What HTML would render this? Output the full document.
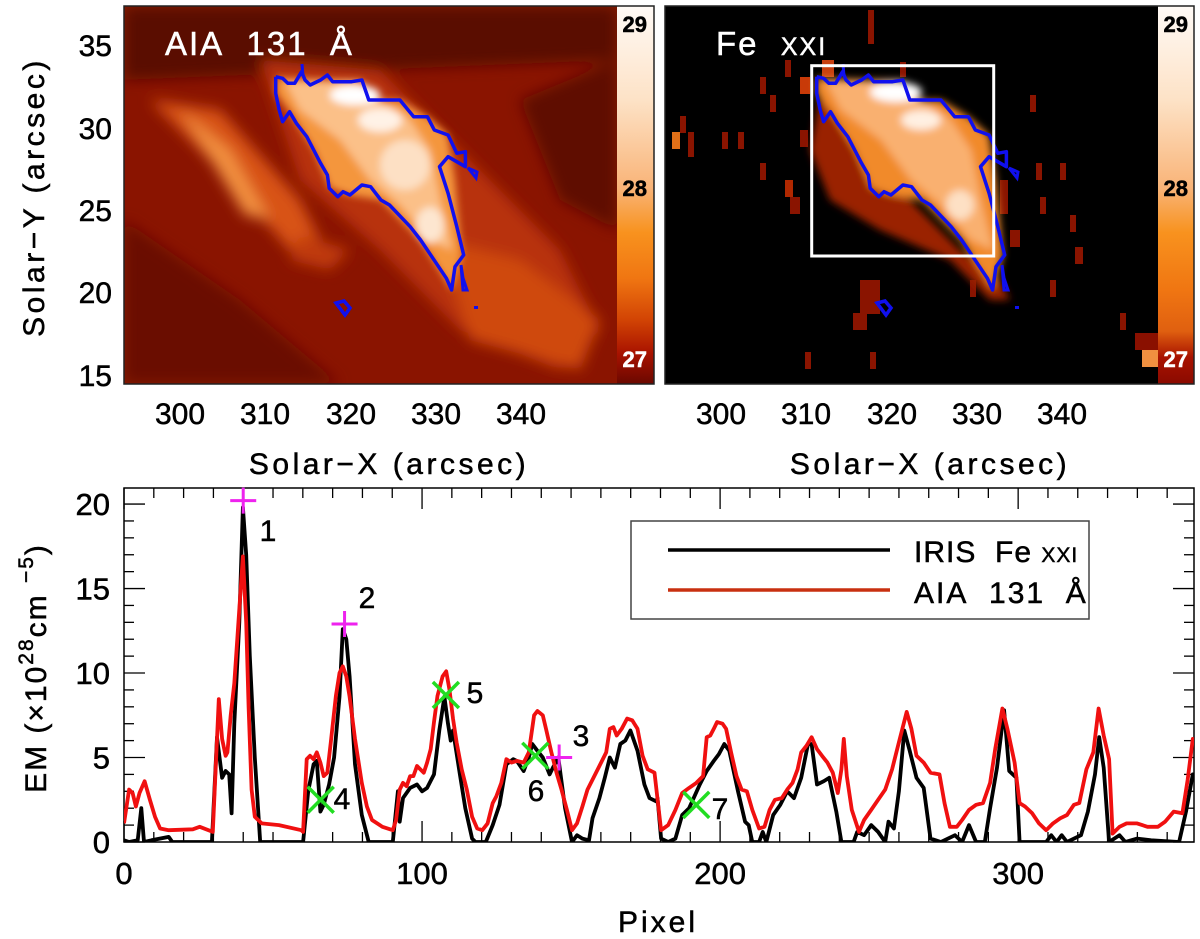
<!DOCTYPE html>
<html><head><meta charset="utf-8">
<style>
html,body{margin:0;padding:0;background:#fff;}
svg{display:block;font-family:"Liberation Sans",sans-serif;}
svg text{stroke:currentColor;stroke-width:0.5px;}
</style></head>
<body>
<svg id="fig" width="1200" height="939" viewBox="0 0 1200 939">
<defs>
  <filter id="blur6" x="-20%" y="-20%" width="140%" height="140%"><feGaussianBlur stdDeviation="7"/></filter>
  <filter id="blur3"><feGaussianBlur stdDeviation="4"/></filter>
  <linearGradient id="cbar" x1="0" y1="0" x2="0" y2="1">
    <stop offset="0" stop-color="#fffaf6"/>
    <stop offset="0.25" stop-color="#fde2c6"/>
    <stop offset="0.48" stop-color="#f9b478"/>
    <stop offset="0.6" stop-color="#f8921e"/>
    <stop offset="0.72" stop-color="#f07612"/>
    <stop offset="0.83" stop-color="#d24404"/>
    <stop offset="0.92" stop-color="#a81200"/>
    <stop offset="1" stop-color="#6a0800"/>
  </linearGradient>
  <linearGradient id="cbar2" x1="0" y1="0" x2="0" y2="1">
    <stop offset="0" stop-color="#fffaf6"/>
    <stop offset="0.25" stop-color="#fde2c6"/>
    <stop offset="0.48" stop-color="#f9b478"/>
    <stop offset="0.6" stop-color="#f8921e"/>
    <stop offset="0.75" stop-color="#f07612"/>
    <stop offset="0.86" stop-color="#e06010"/>
    <stop offset="0.93" stop-color="#a81200"/>
    <stop offset="1" stop-color="#8a0a00"/>
  </linearGradient>
  <clipPath id="clipL"><rect x="124" y="6" width="493" height="378"/></clipPath>
  <clipPath id="clipR"><rect x="665" y="6" width="493" height="378"/></clipPath>
  <clipPath id="clipB"><rect x="124" y="488" width="1070" height="354"/></clipPath>
  <g id="contour">
    <polyline fill="none" stroke="#1010ee" stroke-width="3.5" stroke-linejoin="round" points="275.7,76.7 282.6,78.3 287.8,83.3 294.7,83.3 301.6,71.7 305,80 310.2,85 320.6,80 327.4,75 332.6,81.7 351.6,81.7 361.9,80 368.8,100 399.9,100 413.7,116.7 427.4,116.7 434.3,130 448.1,135 456.8,153.3 465.4,151.7 465.4,166.7 448.1,156.7 439.5,166.7 448.1,193.3 456.8,226.7 463.7,255 455,266.7 451.6,290 446.4,278.3 420.6,240 410.2,226.7 389.5,205 380.9,200 370.6,186.7 361.9,185 349.9,195 343,191.7 337.8,196.7 329.2,188.3 327.4,175 320.6,163.3 313.7,150 306.8,136.7 296.4,123.3 289.5,111.7 282.6,121.7 279.2,110 275.7,93.3 275.7,76.7"/>
    <polyline fill="none" stroke="#1010ee" stroke-width="3" points="302,64 303,76"/>
    <polygon fill="none" stroke="#1010ee" stroke-width="3" points="468,168 477,172 476,178"/>
    <polyline fill="none" stroke="#1010ee" stroke-width="3" points="461,265 463,290 467,290 463,278 461,265"/>
    <polygon fill="none" stroke="#1010ee" stroke-width="3.5" points="336,303 344,301 350,308 345,315"/>
    <rect x="474" y="306" width="4" height="3" fill="#1010ee"/>
  </g>
</defs>

<!-- ===== LEFT MAP ===== -->
<g clip-path="url(#clipL)">
  <rect x="124" y="6" width="493" height="378" fill="#8a1400"/>
  <g filter="url(#blur6)">
    <polygon points="124,6 617,6 617,60 124,80" fill="#5a0800"/>
    <polygon points="124,220 240,300 340,384 124,384" fill="#6a0a00"/>
    <polygon points="520,100 617,60 617,230 560,200" fill="#5e0800"/>
    <polygon points="150,100 220,110 300,200 330,260 290,250 220,170" fill="#d85214"/>
    <polygon points="180,110 230,150 270,220 245,215" fill="#f29040"/>
    <polygon points="260,60 380,70 470,160 560,250 600,330 560,370 460,330 380,250 300,180" fill="#b83008"/>
    <polygon points="440,240 520,260 600,320 580,370 470,340" fill="#cf4a10"/>
    <polygon points="300,235 350,250 330,270 290,260" fill="#c03a08"/>
  </g>
  <g filter="url(#blur3)">
    <polygon points="276,78 332,80 362,80 369,100 400,100 428,117 448,135 455,180 462,255 452,290 420,240 381,200 350,195 330,188 314,150 290,112 276,93" fill="#f4963c"/>
    <polygon points="285,82 350,82 380,100 410,120 430,150 440,200 452,250 430,240 400,205 370,180 340,140 300,110" fill="#fbc088"/>
    <ellipse cx="355" cy="95" rx="25" ry="10" fill="#ffffff"/>
    <ellipse cx="380" cy="120" rx="22" ry="12" fill="#fff2e6"/>
    <ellipse cx="405" cy="165" rx="25" ry="25" fill="#fde0c4"/>
    <ellipse cx="430" cy="225" rx="14" ry="18" fill="#fde6d0"/>
  </g>
  <use href="#contour"/>
</g>
<rect x="617" y="6" width="37" height="378" fill="url(#cbar)"/>
<rect x="124" y="6" width="530" height="378" fill="none" stroke="#222" stroke-width="1.5"/>
<text x="165" y="55" fill="#fff" color="#fff" font-size="33" letter-spacing="2">AIA&#160; 131&#160; Å</text>
<g font-size="22" font-weight="bold">
  <text x="647" y="32" text-anchor="end" fill="#000">29</text>
  <text x="647" y="196" text-anchor="end" fill="#000">28</text>
  <text x="647" y="367" text-anchor="end" fill="#fff" color="#fff">27</text>
</g>

<!-- ===== RIGHT MAP ===== -->
<g clip-path="url(#clipR)">
  <rect x="665" y="6" width="493" height="378" fill="#000"/>
  <g id="speckles" fill="#8a1400">
    <rect x="672" y="132" width="8" height="17" fill="#e07018"/>
    <rect x="680" y="116" width="6" height="17"/>
    <rect x="688" y="132" width="6" height="25"/>
    <rect x="722" y="132" width="6" height="17"/>
    <rect x="738" y="132" width="6" height="17"/>
    <rect x="760" y="77" width="6" height="17"/>
    <rect x="770" y="95" width="6" height="17"/>
    <rect x="760" y="163" width="6" height="17"/>
    <rect x="785" y="180" width="8" height="17" fill="#b02800"/>
    <rect x="790" y="197" width="10" height="17"/>
    <rect x="785" y="60" width="6" height="17"/>
    <rect x="800" y="77" width="10" height="17" fill="#c83a08"/>
    <rect x="800" y="130" width="8" height="17"/>
    <rect x="822" y="60" width="12" height="17" fill="#c84010"/>
    <rect x="868" y="10" width="6" height="34"/>
    <rect x="900" y="62" width="6" height="15"/>
    <rect x="970" y="280" width="6" height="17"/>
    <rect x="1030" y="95" width="6" height="17"/>
    <rect x="1036" y="163" width="6" height="17"/>
    <rect x="1060" y="163" width="6" height="17"/>
    <rect x="1040" y="197" width="6" height="17"/>
    <rect x="1070" y="215" width="6" height="17"/>
    <rect x="1075" y="247" width="8" height="17"/>
    <rect x="1120" y="313" width="6" height="17"/>
    <rect x="805" y="352" width="6" height="17"/>
    <rect x="870" y="352" width="6" height="17"/>
    <rect x="860" y="280" width="20" height="34"/>
    <rect x="853" y="313" width="14" height="17"/>
    <rect x="1000" y="180" width="8" height="34"/>
    <rect x="1010" y="230" width="10" height="17"/>
    <rect x="1050" y="280" width="6" height="17"/>
  </g>
  <g filter="url(#blur3)">
    <polygon points="820,95 900,190 960,250 1000,280 1010,300 990,300 950,260 880,230 830,200 810,150" fill="#9a2004"/>
    <polygon points="816,78 873,80 903,80 910,100 941,100 969,117 989,135 996,180 1003,255 993,290 961,240 922,200 891,195 871,188 855,150 831,112 816,93" fill="#f18a2c"/>
    <polygon points="826,82 891,82 921,100 951,120 971,150 981,200 993,250 971,240 941,205 911,180 881,140 841,110" fill="#f9b070"/>
    <ellipse cx="896" cy="92" rx="26" ry="10" fill="#ffffff"/>
    <ellipse cx="921" cy="120" rx="20" ry="10" fill="#fff0e2"/>
    <ellipse cx="960" cy="205" rx="14" ry="15" fill="#fde0c4"/>
  </g>
  <use href="#contour" transform="translate(541,0)"/>
  <rect x="811.7" y="65.7" width="182" height="190.3" fill="none" stroke="#fff" stroke-width="3"/>
</g>
<rect x="1158" y="6" width="36" height="378" fill="url(#cbar2)"/>
<rect x="1135" y="333" width="23" height="17" fill="#8a1000"/>
<rect x="1142" y="350" width="16" height="17" fill="#f09040"/>
<rect x="665" y="6" width="529" height="378" fill="none" stroke="#222" stroke-width="1.5"/>
<text x="716" y="55" fill="#fff" color="#fff" font-size="33" letter-spacing="2">Fe&#160; <tspan font-size="25">XXI</tspan></text>
<g font-size="22" font-weight="bold">
  <text x="1188" y="32" text-anchor="end" fill="#000">29</text>
  <text x="1188" y="196" text-anchor="end" fill="#000">28</text>
  <text x="1188" y="367" text-anchor="end" fill="#fff" color="#fff">27</text>
</g>

<!-- map axes labels -->
<g font-size="30" fill="#000">
  <g text-anchor="end">
    <text x="112" y="56">35</text><text x="112" y="139">30</text><text x="112" y="221">25</text><text x="112" y="303">20</text><text x="112" y="386">15</text>
  </g>
  <g text-anchor="middle">
    <text x="180" y="424">300</text><text x="265" y="424">310</text><text x="351" y="424">320</text><text x="436" y="424">330</text><text x="521" y="424">340</text>
    <text x="721" y="424">300</text><text x="806" y="424">310</text><text x="892" y="424">320</text><text x="977" y="424">330</text><text x="1062" y="424">340</text>
  </g>
</g>
<text x="389" y="474" font-size="30" letter-spacing="3.5" text-anchor="middle">Solar−X (arcsec)</text>
<text x="930" y="474" font-size="30" letter-spacing="3.5" text-anchor="middle">Solar−X (arcsec)</text>
<text transform="translate(44,197) rotate(-90)" font-size="30" letter-spacing="3.5" text-anchor="middle">Solar−Y (arcsec)</text>

<!-- ===== LINE PLOT ===== -->
<g id="lineplot"></g>
</svg>

<script>
const redPx = [0,1.7,2.9,4.0,5.2,6.9,8.7,10.4,12.1,15,23.1,25.4,29.8,31.8,32.9,34.1,34.7,35.8,37,39.9,41,41.8,42.8,43.9,46.2,52,59.5,60.1,61.3,62.4,63.6,64.7,65.9,67,68.2,69.4,71.1,72.3,73.4,74.6,75.7,77.5,79.8,81.5,83.2,86.7,90.2,91.3,92.5,93.6,94.8,96,97.1,98.3,99.4,100.6,101.7,102.9,104,105.2,106.9,108.1,109.2,110.4,111.6,113.3,115,116.8,118.5,120.2,122,123.7,124.9,126.6,128.3,130,131.8,134.1,135.8,137.6,138.7,140.5,141.6,143.4,145.1,146.8,148.6,150.3,152,153.8,155.5,157.8,159.5,161.8,163,164.2,165.3,167,168.8,170.5,172.3,174,175.7,178,180.2,182.6,185,187.3,189.6,192,194.3,195.5,196.7,197.9,199,200.8,202,203.7,205.5,207.2,209,210.8,213.1,214.9,216.6,218.4,220.7,222.5,224.3,226,227.2,229,230.7,232.5,234.2,236,237.8,239.5,240.7,241.5,242.5,244.2,246.6,248.3,250.7,253,255.4,257.7,260,262.6,264.2,265.9,268.3,270.6,273.6,275.3,277.1,279.4,281.2,283.5,285.9,288.2,290.6,292.3,294.7,296.4,298.8,300.5,302.3,304.7,307,309.4,311.7,314.1,316.4,318.7,320.5,322.9,325.2,327,328.7,330.5,331.7,334,336.4,339.9,343.4,346.9,349.3,352.2,355.1,356.9,358.6,360.4];
const redEM = [1.1,3.1,2.9,2.1,2.9,3.6,2.5,1.5,0.8,0.7,0.75,0.9,0.6,8.45,6.1,5.1,5.3,7.5,9.4,16.9,13,8,3.1,1.5,1.1,1.0,0.7,0.6,4.9,5.1,4.9,5.3,4.7,3.9,4.1,5.9,8.65,10,10.4,9.8,8.6,6.1,3.5,2.1,1.3,0.9,0.7,1.3,3.1,3.5,3.3,3.9,3.9,4.5,4.3,4.1,4.7,5.5,7.1,8.65,9.8,10.1,9,7.3,5.9,4.3,3.1,1.5,0.8,0.7,1.1,2.3,2.7,3.5,4.9,4.7,4.8,4.7,5.3,7.5,7.75,7.5,6.7,5.3,4.1,3.1,1.9,0.7,1.1,2.1,3.1,3.9,4.5,5.3,6.7,6.8,6.3,6.7,7.3,7.2,6.7,5.1,4.3,4.1,0.7,1.0,1.9,2.9,3.2,3.5,3.9,6.2,6.3,6.7,7.1,7.0,6.7,5.3,3.9,3.1,3.0,1.9,0.8,0.9,1.9,2.5,2.6,3.1,3.5,4.3,5.3,5.7,6.2,5.5,5.1,4.7,4.1,2.9,4.3,6.1,3.9,1.9,0.6,1.3,1.9,2.5,3.1,4.3,5.9,7.7,6.7,5.1,4.7,4.1,4.0,2.3,0.9,0.9,1.3,1.9,2.2,2.3,3.5,5.5,7.9,6.7,4.7,2.3,2.1,1.7,1.1,0.7,1.1,1.4,1.6,2.2,2.3,4.3,5.3,7.9,6.3,4.9,0.5,0.9,1.1,1.1,0.9,0.9,1.2,1.8,1.7,3.7,6.1,5.7];
const blackPx = [0,1.7,4.6,5.8,6.7,9.2,15,16.2,29.5,31.2,32.9,34.1,35.3,36.1,37,38.7,39.9,41,42.2,43.9,45.7,60.1,61.8,63.6,64.7,65.9,67,68.8,70.5,72.3,73.4,74.6,75.7,77.5,79.8,82.1,90.2,91.9,92.5,93.6,96,98.3,100,101.7,104,105.8,107.5,108.7,109.6,110.4,112.7,114.5,116.8,117.9,121.4,123.7,126,128.3,130.6,131.8,134.1,135.8,137,138.7,140.5,142.8,143.9,145.7,148,150.3,152,153.8,156,157.2,159.5,161.3,163,164.7,166.5,168.2,169.9,172.3,174.6,176.3,178.6,179,180.2,182.6,185,187.3,189.6,193.2,195.5,197.9,199.6,201.4,203.1,206,208.4,209.6,210.8,213.1,214.3,215.5,217.8,220.2,222.5,224.8,227.2,229.5,230.7,232.5,234.8,236.6,239,240.7,244.8,246,248.3,250.7,253,255.4,256.5,258.3,260,261.8,263.6,265.9,268.3,270.6,274.1,278.8,281.2,283.5,285.9,288.8,290.6,292.9,295.3,297,299.4,300.5,309.4,311.1,312.9,314.6,316.4,321.1,323.4,325.8,327.2,328.7,330.5,334,336,339.9,344.6,354,356.3,358.6,360.4];
const blackEM = [0.1,0,0.1,2,0,0.1,0.3,0,0,6.2,3.8,4.2,4,1.7,7,13,19.8,17,11,5,0,0,3,4.6,4.8,1.8,2.2,3.4,5,8.6,12.6,12,9.8,4.6,1.6,0,0,3,1.2,2.6,3.2,3.4,3,3.2,4,6.6,8.6,7,6,6.6,4,2,0.2,0,0,1,2.2,4.6,4.9,4.8,4.2,5,5.8,5.4,5,4,4.4,5,2,0,0.4,0.2,0.1,1.4,2.6,3.8,5,4.4,5.8,6,6.6,5.4,3.4,2.6,2.4,2.6,0.2,0,0.2,1.6,2,3.4,4.2,4.8,5.2,5.8,5.4,3,1.2,1,0,0,0.6,0,1.6,2.2,3,2.6,3.8,5.8,5.8,3.4,3.6,3.8,1.8,0,0,0.6,0.4,1,0.6,0,1.2,0.8,3,6.6,5.4,3.8,3.2,0.2,0,0.4,0,1,0,0,2,4.4,7.8,4.2,3.8,0,0,0.4,0,0.4,0,0.4,1.8,4,6.2,4.4,0,0.4,0,0.2,0.1,0,1.8,4,3.6];
const plusPx = [40, 74, 146];
const plusEM = [20.2, 12.9, 5.0];
const plusLabels = ["1","2","3"];
const crossPx = [66, 108, 138, 192];
const crossEM = [2.5, 8.7, 5.1, 2.2];
const crossLabels = ["4","5","6","7"];
const xTickLabels = [0, 100, 200, 300];
const yTickLabels = [0, 5, 10, 15, 20];

const NS = "http://www.w3.org/2000/svg";
const X0 = 124, X1 = 1194, Y0 = 842, Y1 = 488;
const xMin = 0, xMax = 359, yMin = 0, yMax = 20.95;
function sx(v){ return X0 + (v - xMin) / (xMax - xMin) * (X1 - X0); }
function sy(v){ return Y0 - (v - yMin) / (yMax - yMin) * (Y0 - Y1); }
function mk(tag, attrs, parent){ const e = document.createElementNS(NS, tag); for (const k in attrs) e.setAttribute(k, attrs[k]); parent.appendChild(e); return e; }

const g = document.getElementById('lineplot');
const frame = mk('rect', {x:X0, y:Y1, width:X1-X0, height:Y0-Y1, fill:'none', stroke:'#000', 'stroke-width':1.5}, g);



const ticks = mk('g', {stroke:'#000', 'stroke-width':1.3}, g);


for (let v = 0; v <= xMax; v += 10) {
  const L = (v % 100 === 0) ? 21 : 10;
  mk('line', {x1:sx(v), x2:sx(v), y1:Y0, y2:Y0-L}, ticks);
  mk('line', {x1:sx(v), x2:sx(v), y1:Y1, y2:Y1+L}, ticks);
}
for (let v = 0; v <= 20; v += 1) {
  const L = (v % 5 === 0) ? 21 : 10;
  mk('line', {x1:X0, x2:X0+L, y1:sy(v), y2:sy(v)}, ticks);
  mk('line', {x1:X1, x2:X1-L, y1:sy(v), y2:sy(v)}, ticks);
}
xTickLabels.forEach(v => {
  const t = mk('text', {x:sx(v), y:884, 'font-size':31, 'text-anchor':'middle'}, g);
  t.textContent = v;
  
  
});
yTickLabels.forEach(v => {
  const t = mk('text', {x:110, y:sy(v)+11, 'font-size':31, 'text-anchor':'end'}, g);
  t.textContent = v;
  
  
});
const xt = mk('text', {x:658, y:932, 'font-size':30, 'letter-spacing':3, 'text-anchor':'middle'}, g);
xt.textContent = 'Pixel';


const yt = mk('text', {transform:'translate(46,668) rotate(-90)', 'font-size':30, 'letter-spacing':2, 'text-anchor':'middle'}, g);


yt.innerHTML = 'EM\u00a0(×10<tspan dy="-13" font-size="21">28</tspan><tspan dy="13">cm\u00a0</tspan><tspan dy="-13" font-size="21">−5</tspan><tspan dy="13">)</tspan>';

const plotArea = mk('g', {'clip-path':'url(#clipB)'}, g);


function line(px, vals, color, name){
  const pts = px.map((p,i) => sx(p).toFixed(1) + ',' + sy(vals[i]).toFixed(1)).join(' ');
  const pl = mk('polyline', {points:pts, fill:'none', stroke:color, 'stroke-width':3.8, 'stroke-linejoin':'round'}, plotArea);
  
  
}
line(blackPx, blackEM, '#000', 'iris-fe-xxi-line');
line(redPx, redEM, '#f01010', 'aia-131-line');

plusPx.forEach((p,i) => {
  const cx = sx(p), cy = sy(plusEM[i]);
  const m = mk('path', {d:`M${cx-13},${cy}H${cx+13}M${cx},${cy-13}V${cy+13}`, stroke:'#ee22ee', 'stroke-width':3, fill:'none'}, g);
  
  
});
crossPx.forEach((p,i) => {
  const cx = sx(p), cy = sy(crossEM[i]);
  const m = mk('path', {d:`M${cx-13},${cy-13}L${cx+13},${cy+13}M${cx-13},${cy+13}L${cx+13},${cy-13}`, stroke:'#22dd22', 'stroke-width':3.5, fill:'none'}, g);
  
  
});
const labelPos = [[268,541],[367,608],[581,746],[342,809],[475,703],[536,801],[720,819]];
const allLabels = plusLabels.concat(crossLabels);
allLabels.forEach((s,i) => {
  const t = mk('text', {x:labelPos[i][0], y:labelPos[i][1], 'font-size':30, 'text-anchor':'middle'}, g);
  t.textContent = s;
  
  
});

const lg = mk('g', {}, g);


mk('rect', {x:631, y:521, width:458, height:98, fill:'#fff', stroke:'#444', 'stroke-width':1.5}, lg);
mk('line', {x1:668, x2:890, y1:550, y2:550, stroke:'#000', 'stroke-width':3.5}, lg);
mk('line', {x1:668, x2:890, y1:590, y2:590, stroke:'#c83010', 'stroke-width':3.5}, lg);
const l1 = mk('text', {x:914, y:562, 'font-size':30, 'letter-spacing':1}, lg);
l1.innerHTML = 'IRIS\u00a0 Fe <tspan font-size="21">XXI</tspan>';


const l2 = mk('text', {x:914, y:603, 'font-size':30, 'letter-spacing':2}, lg);
l2.textContent = 'AIA\u00a0 131\u00a0 Å';


</script>
</body></html>
